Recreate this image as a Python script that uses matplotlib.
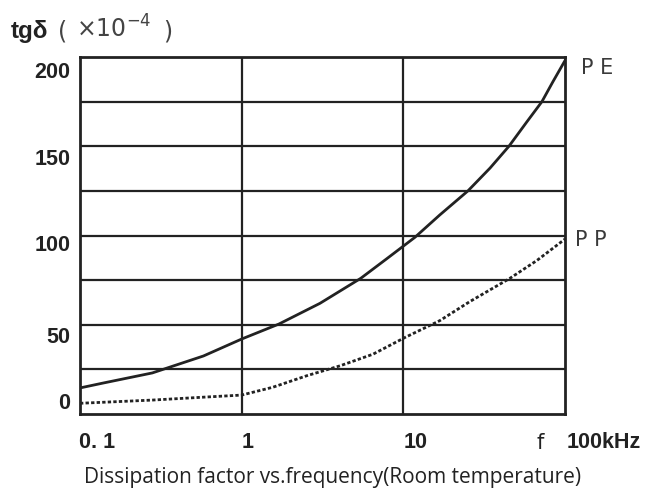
import matplotlib
matplotlib.use("Agg")
import matplotlib.pyplot as plt
from matplotlib.transforms import ScaledTranslation
from matplotlib.ticker import FixedLocator, NullFormatter

# ---- data ----
pe_freq = [0.1, 0.14, 0.28, 0.58, 1, 1.7, 3.05, 5.45, 7.9, 11.8, 16.8, 25.1, 34.4, 45, 58, 72, 84, 100]
pe_tan = [14.6, 17.4, 23, 32.5, 42, 50.4, 62, 76, 87, 99, 111.5, 125, 137.8, 150, 163.6, 175, 186, 198]

pp_freq = [0.1, 0.28, 0.6, 1, 1.56, 2.54, 4.06, 6.49, 10.2, 16.8, 25.8, 45.6, 67, 100]
pp_tan = [6, 7.8, 9.5, 10.6, 15, 21.5, 27, 33.5, 42.8, 52.3, 63, 76, 86, 98]

x_ticks = [0.1, 1, 10, 100]
x_tick_labels = ["0. 1", "1", "10", "100kHz"]
y_ticks = [0, 50, 100, 150, 200]
y_tick_labels = ["0", "50", "100", "150", "200"]
y_grid = [25, 50, 75, 100, 125, 150, 175]

series_names = ["PE", "PP"]
title = "Dissipation factor vs.frequency(Room temperature)"

# ---- figure ----
W, H = 646, 491
fig = plt.figure(figsize=(W / 100, H / 100), dpi=100)
ax = fig.add_axes([80 / W, 1 - 414 / H, (565 - 80) / W, (414 - 57) / H])

ink = "#222222"
ax.set_xscale("log")
ax.set_xlim(0.1, 100)
ax.set_ylim(0, 200)

for s in ax.spines.values():
    s.set_color(ink)
    s.set_linewidth(2.0)

# grid
for g in y_grid:
    ax.axhline(g, color=ink, lw=1.6, zorder=1)
for g in x_ticks[1:-1]:
    ax.axvline(g, color=ink, lw=1.6, zorder=1)

# curves
ax.plot(pe_freq, pe_tan, color=ink, lw=2.0, zorder=3, solid_joinstyle="round")
ax.plot(pp_freq, pp_tan, color=ink, lw=2.0, zorder=3, linestyle=(0, (1.2, 0.8)))

# ticks
ax.xaxis.set_major_locator(FixedLocator(x_ticks))
ax.xaxis.set_minor_locator(FixedLocator([]))
ax.xaxis.set_minor_formatter(NullFormatter())
ax.set_xticks(x_ticks)
ax.set_xticklabels(x_tick_labels)
ax.set_yticks(y_ticks)
ax.set_yticklabels(y_tick_labels)
ax.tick_params(axis="both", length=0)
ax.tick_params(axis="y", pad=7)
ax.tick_params(axis="x", pad=13)

for lab in ax.get_yticklabels():
    lab.set_fontfamily("Liberation Sans")
    lab.set_fontweight("bold")
    lab.set_fontsize(15.5)
    lab.set_color(ink)

y_off = {"0": 13, "50": -10, "100": -8, "150": -11, "200": -13}
for lab, txt in zip(ax.get_yticklabels(), y_tick_labels):
    lab.set_transform(lab.get_transform() + ScaledTranslation(0, y_off[txt] / 100, fig.dpi_scale_trans))

x_off = {"0. 1": 17, "1": 6, "10": 12, "100kHz": 2}
for lab, txt in zip(ax.get_xticklabels(), x_tick_labels):
    lab.set_fontfamily("Liberation Sans")
    lab.set_fontweight("bold")
    lab.set_fontsize(15.5)
    lab.set_color(ink)
    if txt == "100kHz":
        lab.set_horizontalalignment("left")
    lab.set_transform(lab.get_transform() + ScaledTranslation(x_off[txt] / 100, 0, fig.dpi_scale_trans))

# series labels
ax.annotate("P E", xy=(100, pe_tan[-1]), xycoords="data", xytext=(16, -7),
            textcoords="offset pixels", ha="left", va="center", fontsize=15,
            family="DejaVu Sans", color="#3a3a3a", annotation_clip=False)
ax.annotate("P P", xy=(100, pp_tan[-1]), xycoords="data", xytext=(10, -1),
            textcoords="offset pixels", ha="left", va="center", fontsize=15,
            family="DejaVu Sans", color="#3a3a3a", annotation_clip=False)

# axis "f"
ax.annotate("f", xy=(1, 0), xycoords="axes fraction", xytext=(-25, -29),
            textcoords="offset pixels", ha="center", va="center", fontsize=15,
            family="DejaVu Sans", color=ink, annotation_clip=False)

# y-axis title
fig.text(11 / W, 1 - 38 / H, "tgδ", fontsize=17.5, fontweight="bold",
         family="Liberation Sans", color=ink, ha="left", va="baseline")
fig.text(58 / W, 1 - 38 / H, "(", fontsize=17,
         family="DejaVu Sans", color="#444444", ha="left", va="baseline")
fig.text(76 / W, 1 - 38 / H, "×10$^{-4}$", fontsize=17,
         family="DejaVu Sans", color="#444444", ha="left", va="baseline")
fig.text(163 / W, 1 - 38 / H, ")", fontsize=17,
         family="DejaVu Sans", color="#444444", ha="left", va="baseline")

# bottom title
fig.text(333 / W, 1 - 478 / H, title, fontsize=15, family="Open Sans",
         color="#222222", ha="center", va="center")

fig.savefig("out.png", dpi=100, facecolor="white")
